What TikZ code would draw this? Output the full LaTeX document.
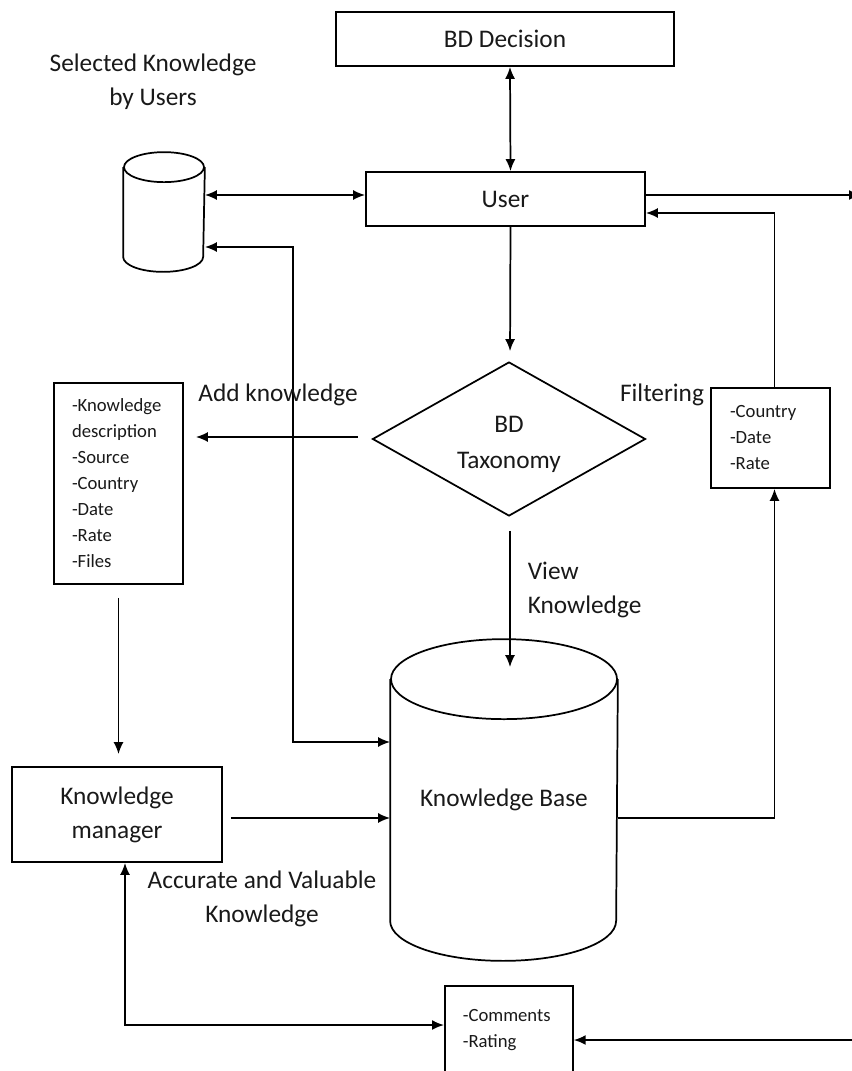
\documentclass[tikz,border=0pt]{standalone}
\usepackage{fontspec}
\setmainfont{Carlito}
\usetikzlibrary{shapes.geometric,arrows.meta,calc}
\begin{document}
\begin{tikzpicture}[x=0.75pt,y=-0.75pt,
  line width=1.3pt,
  >={Latex[length=9pt,width=7.5pt]},
  every node/.style={text=black!90},
  big/.style={font=\fontsize{19}{25.5}\selectfont},
  small/.style={font=\fontsize{14}{19.5}\selectfont},
  box/.style={draw,rectangle,inner sep=0pt,big},
  listbox/.style={draw,rectangle,small,align=left,inner ysep=0pt},
  store/.style={rectangle,inner sep=0pt,big},
  label/.style={big,align=center,inner sep=0pt}]
\useasboundingbox (0,0) rectangle (851,1071);

% process boxes
\node[box,minimum width=253.5pt,minimum height=40.5pt] (dec) at (505,39) {BD Decision};
\node[box,minimum width=209.25pt,minimum height=40.5pt] (user) at (505.5,199) {User};
\node[draw,diamond,big,align=center,inner sep=0pt,aspect=1.77,
      minimum width=204.75pt,minimum height=115.5pt] (tax) at (509,439) {\rule{0pt}{21pt}BD\\[1.5pt]Taxonomy};
\node[box,align=center,minimum width=157.5pt,minimum height=71.25pt] (km) at (117,814.5) {Knowledge\\manager};

% attribute lists
\node[listbox,text width=69.75pt,inner xsep=13.5pt,minimum height=150.75pt] (add) at (118.5,483.5)
  {-Knowledge\\description\\-Source\\-Country\\-Date\\-Rate\\-Files};
\node[listbox,text width=60.75pt,inner xsep=14.25pt,minimum height=75pt] (filt) at (770.5,438)
  {-Country\\-Date\\-Rate};
\node[listbox,text width=69pt,inner xsep=13.5pt,minimum height=71.25pt,anchor=north west] (com) at (444,985) {};
\node[small,align=left,anchor=north west,inner sep=0pt] (comtxt) at (462,1009) {-Comments\\-Rating};

% data stores (cylinders)
\node[store,minimum width=60pt,minimum height=88.5pt] (sel) at (164,212) {};
\draw ($(sel.north)+(0,15)$) ellipse [x radius=30pt,y radius=11.25pt];
\draw ($(sel.north west)+(0,15)$) -- ($(sel.south west)+(0,-15)$)
  arc[start angle=180,end angle=360,x radius=30pt,y radius=11.25pt]
  -- ($(sel.north east)+(0,15)$);

\node[store,minimum width=169.5pt,minimum height=240pt] (kb) at (504,800) {Knowledge Base};
\draw ($(kb.north)+(0,40)$) ellipse [x radius=84.75pt,y radius=30pt];
\draw ($(kb.north west)+(0,40)$) -- ($(kb.south west)+(0,-40)$)
  arc[start angle=180,end angle=360,x radius=84.75pt,y radius=30pt]
  -- ($(kb.north east)+(0,40)$);

% free ends at the right border
\coordinate (outR) at (861,195);
\coordinate (inR) at (860,1040);
\coordinate (c1) at (293,742);

% connectors
\draw[<->] ([xshift=3.75pt]dec.south) -- ([xshift=3.75pt]user.north);
\draw[<->] (sel.east |- outR) -- (user.west |- outR);
\draw[<->] ([yshift=-26.25pt]sel.east) -| (c1) -- (c1 -| kb.west);
\draw[->,shorten >=7.5pt] ([xshift=3.75pt]user.south) -- ([xshift=0.75pt]tax.north);
\draw[->,shorten >=9pt] ([xshift=-10.5pt,yshift=1.5pt]tax.west) -- ([yshift=1.5pt]add.east |- tax.west);
\draw[->,shorten <=9.75pt,shorten >=9pt] (add.south) -- (add.south |- km.north);
\draw[->,shorten <=6pt] ([yshift=-2.6pt]km.east) -- ([yshift=-2.6pt]kb.west |- km.east);
\draw[->,shorten <=10.5pt] ([xshift=0.75pt]tax.south) -- ([xshift=0.75pt,yshift=-21pt]tax.south |- kb.north);
\draw[->] ([yshift=-2.6pt]kb.east |- km.east) -| ([xshift=3pt]filt.south);
\draw[->] ([xshift=3pt]filt.north) |- ([yshift=-10.5pt]user.east);
\draw[->] (user.east |- outR) -- (outR);
\draw[->] (inR) -- (inR -| com.east);
\draw[<->] ([xshift=6pt]km.south) |- (com.west |- 0,1025);

% free labels
\node[label] (lsel) at (153,82) {Selected Knowledge\\by Users};
\node[label] (ladd) at (278,395) {Add knowledge};
\node[label] (lfilt) at (662,395) {Filtering};
\node[label,align=left,anchor=west] (lview) at (527,590) {View\\Knowledge};
\node[label] (lacc) at (262,899) {Accurate and Valuable\\Knowledge};
\end{tikzpicture}
\end{document}
